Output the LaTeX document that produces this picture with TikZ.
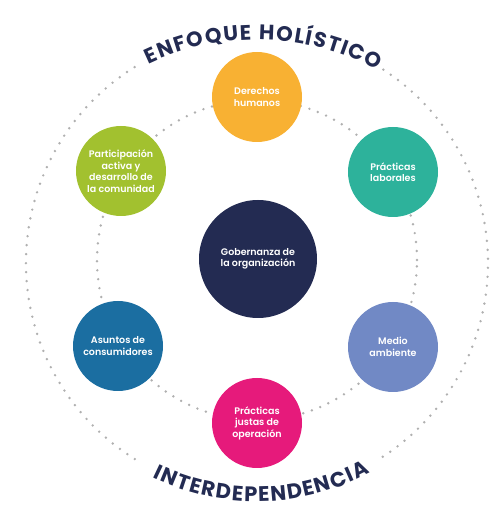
\documentclass[tikz,border=0pt]{standalone}
\usepackage{fontspec}
\setmainfont{Poppins}
\newfontfamily\lblfont{Poppins SemiBold}
\usetikzlibrary{decorations.text}
\definecolor{navy}{HTML}{232B52}
\definecolor{dotgray}{HTML}{B0B0B0}
\definecolor{sunyellow}{HTML}{F8B133}
\definecolor{teal}{HTML}{2DB29B}
\definecolor{periwinkle}{HTML}{7189C5}
\definecolor{magenta}{HTML}{E61A7B}
\definecolor{seablue}{HTML}{1B6EA1}
\definecolor{lime}{HTML}{A2C12F}

\begin{document}
\begin{tikzpicture}[x=1pt, y=1pt,
    disc/.style={circle, minimum size=90pt, inner sep=0pt, align=center,
                 text=white, font=\lblfont\fontsize{9.5}{11.5}\selectfont},
    ring/.style={draw=dotgray, line width=2.7pt, line cap=round,
                 dash pattern=on 0pt off 9pt},
    arctext/.style={decorate, decoration={text along path, text={#1},
                 text color=navy, text align={fit to path},
                 text format delimiters={[}{]}}}
]
\useasboundingbox (0,0) rectangle (496,523);
\coordinate (O) at (257,263);
\coordinate (R) at (257,260);
\coordinate (T) at (257,233);
% dotted rings
\draw[ring] (O) circle[radius=160];
\draw[ring, shift={(R)}] (122:231) arc[start angle=122, end angle=240, radius=231];
\draw[ring, shift={(R)}] (-57:231) arc[start angle=-57, end angle=58, radius=231];
% titles along the outer ring
\path[arctext={[\bfseries\fontsize{21}{21}\selectfont]ENFOQUE HOL{Í}STICO}, shift={(T)}]
    (115.6:250.5) arc[start angle=115.6, end angle=61.3, radius=250.5];
\path[arctext={[\bfseries\fontsize{21}{21}\selectfont]INTERDEPENDENCIA}, shift={(R)}]
    (-116:238.5) arc[start angle=-116, end angle=-61.7, radius=238.5];
% circles
\node[disc, minimum size=118pt, fill=navy] (gob) at (258,264) {Gobernanza de\\la organización};
\node[disc, fill=sunyellow]  (ddhh) at (257,426) {Derechos\\humanos};
\node[disc, fill=teal]       (lab)  at (393,351) {Prácticas\\laborales};
\node[disc, fill=periwinkle] (amb)  at (393,176) {Medio\\ambiente};
\node[disc, fill=magenta]    (ope)  at (257,100) {Prácticas\\justas de\\operación};
\node[disc, fill=seablue]    (cons) at (118,177) {Asuntos de\\consumidores};
\node[disc, fill=lime]       (com)  at (121,352) {Participación\\activa y\\desarrollo de\\la comunidad};
\end{tikzpicture}
\end{document}
